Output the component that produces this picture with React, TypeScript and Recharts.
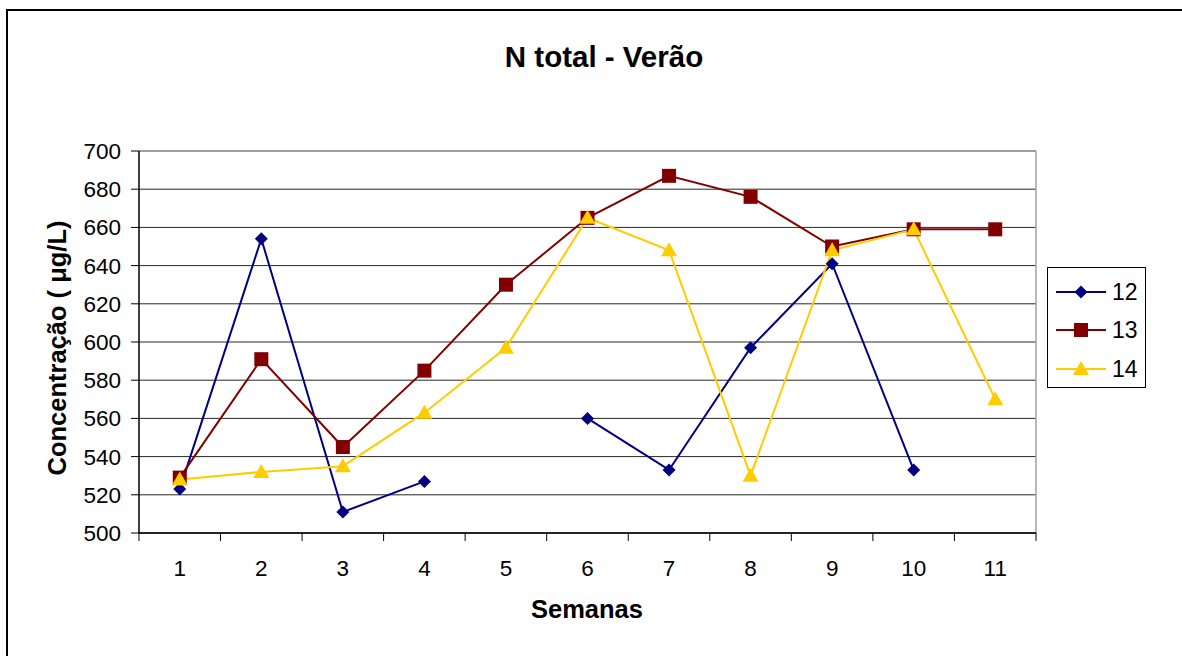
import React from "react"
import { LineChart, Line, XAxis, YAxis, CartesianGrid, ReferenceLine } from "recharts"

const weeks = [1, 2, 3, 4, 5, 6, 7, 8, 9, 10, 11]
const s12 = [523, 654, 511, 527, null, 560, 533, 597, 641, 533, null]
const s13 = [529, 591, 545, 585, 630, 665, 687, 676, 650, 659, 659]
const s14 = [528, 532, 535, 563, 597, 665, 648, 530, 648, 659, 570]
const yTicks = [500, 520, 540, 560, 580, 600, 620, 640, 660, 680, 700]

const data = weeks.map((w, i) => ({ week: w, a: s12[i], b: s13[i], c: s14[i] }))

const font = "Arial, 'Liberation Sans', sans-serif"
const HALF = 40.8

const series = [
  { key: "a", name: "12", color: "#000080", shape: "diamond" },
  { key: "b", name: "13", color: "#800000", shape: "square" },
  { key: "c", name: "14", color: "#FFCC00", shape: "triangle" },
]

function Marker({ cx, cy, shape, color }: any) {
  if (cx == null || cy == null) return null
  if (shape === "diamond") {
    const r = 6.5
    return <polygon points={`${cx},${cy - r} ${cx + r},${cy} ${cx},${cy + r} ${cx - r},${cy}`} fill={color} />
  }
  if (shape === "square") {
    return <rect x={cx - 7} y={cy - 7} width={14} height={14} fill={color} />
  }
  return <polygon points={`${cx},${cy - 8} ${cx + 8},${cy + 6} ${cx - 8},${cy + 6}`} fill={color} />
}

function WeekTick({ x, y, payload, index }: any) {
  return (
    <g>
      <line x1={x - HALF} y1={y} x2={x - HALF} y2={y + 8} stroke="#000" />
      {index === weeks.length - 1 && <line x1={x + HALF} y1={y} x2={x + HALF} y2={y + 8} stroke="#000" />}
      <text x={x} y={y + 43} textAnchor="middle" fontSize={22.5} fontFamily={font} fill="#000">{payload.value}</text>
    </g>
  )
}

function LegendBox() {
  return (
    <div style={{ position: "absolute", left: 1047, top: 267, width: 99, height: 121, border: "1px solid #000", boxSizing: "border-box", background: "#fff" }}>
      {series.map((s, i) => {
        const cy = [24, 62, 101][i]
        return (
          <div key={s.key} style={{ position: "absolute", left: 0, top: cy - 14, width: 97, height: 28 }}>
            <svg width={62} height={28} style={{ position: "absolute", left: 0, top: 0 }}>
              <line x1={8} y1={14} x2={58} y2={14} stroke={s.color} strokeWidth={2} />
              <Marker cx={33} cy={14} shape={s.shape} color={s.color} />
            </svg>
            <span style={{ position: "absolute", left: 64, top: 0, lineHeight: "28px", fontSize: 23, fontFamily: font, color: "#000" }}>{s.name}</span>
          </div>
        )
      })}
    </div>
  )
}

export default function App() {
  return (
    <div style={{ position: "fixed", left: 0, top: 0, width: 1182, height: 656, overflow: "hidden", background: "#fff", fontFamily: font }}>
      <div style={{ position: "absolute", left: 6, top: 9, width: 1300, height: 800, border: "2px solid #000" }} />
      <div style={{ position: "absolute", left: 404, top: 39, width: 400, textAlign: "center", fontSize: 29.5, fontWeight: "bold", lineHeight: "36px" }}>
        N total - Verão
      </div>
      <div style={{ position: "absolute", left: 0, top: 0 }}>
        <LineChart width={1182} height={656} data={data} margin={{ top: 151, right: 146, bottom: 83, left: 0 }}>
          <CartesianGrid vertical={false} stroke="#000" strokeOpacity={0.85} />
          <XAxis
            dataKey="week"
            type="number"
            domain={[0.5, 11.5]}
            ticks={weeks}
            interval={0}
            tickSize={0}
            tickMargin={0}
            tickLine={false}
            height={40}
            axisLine={{ stroke: "#000", strokeWidth: 1.5 }}
            tick={<WeekTick />}
          />
          <YAxis
            type="number"
            domain={[500, 700]}
            ticks={yTicks}
            interval={0}
            width={139}
            tickSize={8}
            tickMargin={10}
            axisLine={{ stroke: "#000", strokeWidth: 1.5 }}
            tickLine={{ stroke: "#000" }}
            tick={{ fontSize: 22.5, fill: "#000", fontFamily: font }}
          />
          <ReferenceLine y={700} stroke="#a0a0a0" strokeWidth={1.5} />
          <ReferenceLine x={11.5} stroke="#a0a0a0" strokeWidth={1.5} />
          {series.map(s => (
            <Line
              key={s.key}
              dataKey={s.key}
              name={s.name}
              stroke={s.color}
              strokeWidth={2}
              isAnimationActive={false}
              connectNulls={false}
              dot={(p: any) => <Marker key={`${s.key}-${p.index}`} cx={p.cx} cy={p.cy} shape={s.shape} color={s.color} />}
              activeDot={false}
            />
          ))}
        </LineChart>
      </div>
      <LegendBox />
      <div style={{ position: "absolute", left: 487, top: 594, width: 200, textAlign: "center", fontSize: 25.5, fontWeight: "bold", lineHeight: "30px" }}>
        Semanas
      </div>
      <div style={{ position: "absolute", left: 57 - 150, top: 348 - 15, width: 300, textAlign: "center", fontSize: 25.5, fontWeight: "bold", lineHeight: "30px", transform: "rotate(-90deg)" }}>
        Concentração ( μg/L)
      </div>
    </div>
  )
}
